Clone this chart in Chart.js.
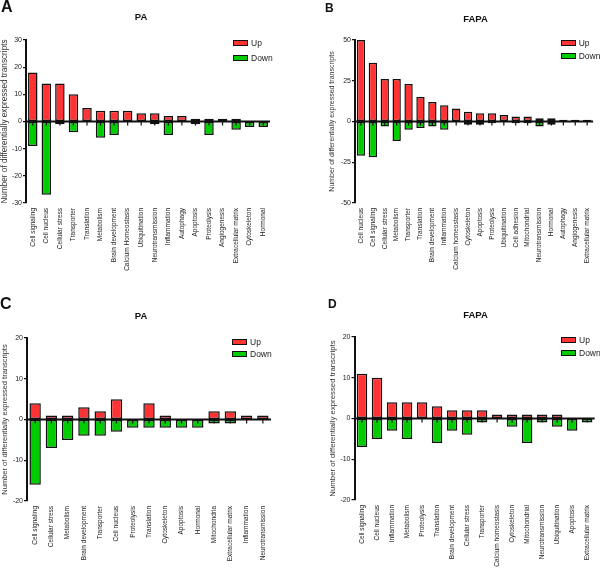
<!DOCTYPE html>
<html>
<head>
<meta charset="utf-8">
<script src="https://cdn.jsdelivr.net/npm/chart.js@4.4.0/dist/chart.umd.min.js"></script>
<style>
  html, body { margin: 0; padding: 0; background: #fff; }
  #figure { position: relative; width: 600px; height: 570px; overflow: hidden; font-family: Arial, 'Liberation Sans', sans-serif; }
  .panel { position: absolute; width: 300px; height: 285px; }
  .letter, .title { position: absolute; color: #111; font-weight: bold; line-height: 1; white-space: nowrap; }
  .title { transform: translateX(-50%); }
  .legend-item { position: absolute; display: flex; align-items: center; font-size: 8.5px; color: #222; line-height: 1; white-space: nowrap; }
  .swatch { display: inline-block; box-sizing: border-box; width: 15px; height: 6px; border: 1.5px solid #111; margin-right: 3px; }
</style>
</head>
<body>
<div id="figure"></div>
<script>
// A: PA
const categoriesA = ['Cell signaling', 'Cell nucleus', 'Cellular stress', 'Transporter', 'Translation', 'Metabolism',
  'Brain development', 'Calcium Homeostasis', 'Ubiquitination', 'Neurotransmission', 'Inflammation', 'Autophagy',
  'Apoptosis', 'Proteolysis', 'Angiogenesis', 'Extracellular matrix', 'Cytoskeleton', 'Hormonal'];
const upA = [18, 14, 14, 10, 5, 4, 4, 4, 3, 3, 2, 2, 1, 1, 1, 1, 0, 0];
const downA = [-9, -27, -1, -4, 0, -6, -5, 0, 0, -1, -5, 0, -1, -5, 0, -3, -2, -2];
const yTicksA = [-30, -20, -10, 0, 10, 20, 30];

// B: FAPA
const categoriesB = ['Cell nucleus', 'Cell signaling', 'Cellular stress', 'Metabolism', 'Transporter', 'Translation',
  'Brain development', 'Inflammation', 'Calcium homeostasis', 'Cytoskeleton', 'Apoptosis', 'Proteolysis',
  'Ubiquitination', 'Cell adhesion', 'Mitochondrial', 'Neurotransmission', 'Hormonal', 'Autophagy',
  'Angiogenesis', 'Extracellular matrix'];
const upB = [50, 36, 26, 26, 23, 15, 12, 10, 8, 6, 5, 5, 4, 3, 3, 2, 2, 1, 1, 1];
const downB = [-21, -22, -3, -12, -5, -4, -3, -5, 0, -2, -2, -1, 0, -1, -1, -3, -2, 0, 0, 0];
const yTicksB = [-50, -25, 0, 25, 50];

// C: PA
const categoriesC = ['Cell signaling', 'Cellular stress', 'Metabolism', 'Brain development', 'Transporter',
  'Cell nucleus', 'Proteolysis', 'Translation', 'Cytoskeleton', 'Apoptosis', 'Hormonal', 'Mitochondria',
  'Extracellular matrix', 'Inflammation', 'Neurotransmission'];
const upC = [4, 1, 1, 3, 2, 5, 0, 4, 1, 0, 0, 2, 2, 1, 1];
const downC = [-16, -7, -5, -4, -4, -3, -2, -2, -2, -2, -2, -1, -1, 0, 0];
const yTicksC = [-20, -10, 0, 10, 20];

// D: FAPA
const categoriesD = ['Cell signaling', 'Cell nucleus', 'Inflammation', 'Metabolism', 'Proteolysis', 'Translation',
  'Brain development', 'Cellular stress', 'Transporter', 'Calcium homeostasis', 'Cytoskeleton', 'Mitochondrial',
  'Neurotransmission', 'Ubiquitination', 'Apoptosis', 'Extracellular matrix'];
const upD = [11, 10, 4, 4, 4, 3, 2, 2, 2, 1, 1, 1, 1, 1, 0, 0];
const downD = [-7, -5, -3, -5, 0, -6, -3, -4, -1, 0, -2, -6, -1, -2, -3, -1];
const yTicksD = [-20, -10, 0, 10, 20];

const seriesNames = ['Up', 'Down'];
const seriesColors = ['#ff3333', '#00cc00'];
const yTitle = 'Number of differentially expressed transcripts';
const FONT = "Arial, 'Liberation Sans', sans-serif";

const panels = [
  { letter: 'A', title: 'PA', labels: categoriesA, up: upA, down: downA, yTicks: yTicksA,
    x: 0, y: 0, area: { left: 26, top: 40, right: 270, bottom: 203 }, yTitleX: 5, yTitleSize: 8.2,
    letterPos: [1, -1, 16], titlePos: [141, 12, 9.5], legendPos: [233, 40.5, 14.5] },
  { letter: 'B', title: 'FAPA', labels: categoriesB, up: upB, down: downB, yTicks: yTicksB,
    x: 300, y: 0, area: { left: 55, top: 40, right: 298, bottom: 203 }, yTitleX: 32, yTitleSize: 7,
    letterPos: [325, 1.5, 12], titlePos: [175.5, 13.8, 9.5], legendPos: [260.7, 40.5, 13] },
  { letter: 'C', title: 'PA', labels: categoriesC, up: upC, down: downC, yTicks: yTicksC,
    x: 0, y: 285, area: { left: 27, top: 53, right: 271, bottom: 216 }, yTitleX: 5, yTitleSize: 7.5,
    letterPos: [0, 296, 16], titlePos: [141, 310.8, 9.5], legendPos: [232, 54, 12] },
  { letter: 'D', title: 'FAPA', labels: categoriesD, up: upD, down: downD, yTicks: yTicksD,
    x: 300, y: 285, area: { left: 54.5, top: 52, right: 298.6, bottom: 215 }, yTitleX: 33, yTitleSize: 7.8,
    letterPos: [328, 298.4, 12], titlePos: [175.5, 309.8, 9.5], legendPos: [261, 52.7, 12.5] }
];

// zero baseline plus the short category ticks hanging under it
const zeroLine = {
  id: 'zeroLine',
  afterDatasetsDraw(chart) {
    const { ctx, chartArea, scales: { x, y } } = chart;
    const y0 = y.getPixelForValue(0);
    ctx.save();
    ctx.strokeStyle = '#111';
    ctx.lineWidth = 2;
    ctx.beginPath();
    ctx.moveTo(chartArea.left, y0);
    ctx.lineTo(chartArea.right, y0);
    ctx.stroke();
    ctx.lineWidth = 1.2;
    ctx.beginPath();
    x.ticks.forEach((t, i) => {
      const px = x.getPixelForTick(i);
      ctx.moveTo(px, y0);
      ctx.lineTo(px, y0 + 4);
    });
    ctx.stroke();
    ctx.restore();
  }
};

const figure = document.getElementById('figure');

const addText = (cls, text, left, top, size) => {
  const el = document.createElement('div');
  el.className = cls;
  el.textContent = text;
  el.style.left = left + 'px';
  el.style.top = top + 'px';
  el.style.fontSize = size + 'px';
  figure.appendChild(el);
};

panels.forEach(p => {
  const wrap = document.createElement('div');
  wrap.className = 'panel';
  wrap.style.left = p.x + 'px';
  wrap.style.top = p.y + 'px';
  const canvas = document.createElement('canvas');
  canvas.width = 300;
  canvas.height = 285;
  wrap.appendChild(canvas);
  figure.appendChild(wrap);

  const xHeight = 285 - p.area.bottom;
  const step = p.yTicks[1] - p.yTicks[0];

  const chart = new Chart(canvas.getContext('2d'), {
    type: 'bar',
    data: {
      labels: p.labels,
      datasets: [p.up, p.down].map((values, i) => ({
        label: seriesNames[i],
        data: values.map(v => (v === 0 ? null : v)),
        backgroundColor: seriesColors[i],
        borderColor: '#111',
        borderWidth: 1.5,
        borderSkipped: false,
        barPercentage: 0.7,
        categoryPercentage: 1,
        grouped: false
      }))
    },
    options: {
      responsive: false,
      animation: false,
      devicePixelRatio: 1,
      layout: { padding: { left: 0, top: p.area.top, right: 300 - p.area.right, bottom: 0 } },
      plugins: { legend: { display: false }, tooltip: { enabled: false } },
      scales: {
        x: {
          grid: { display: false, drawTicks: false },
          border: { display: false },
          ticks: { color: '#222', font: { family: FONT, size: 6.5 }, padding: 5, minRotation: 90, maxRotation: 90, autoSkip: false },
          afterFit: scale => { scale.height = xHeight; }
        },
        y: {
          min: p.yTicks[0],
          max: p.yTicks[p.yTicks.length - 1],
          grid: { drawOnChartArea: false, color: '#111', tickLength: 3, lineWidth: 1.2 },
          border: { color: '#111', width: 2 },
          ticks: { stepSize: step, color: '#222', font: { family: FONT, size: 7 }, padding: 1 },
          title: {
            display: true,
            text: yTitle,
            color: '#333',
            font: { family: FONT, size: p.yTitleSize, lineHeight: 1.2 },
            padding: { top: p.yTitleX - p.yTitleSize * 0.6, bottom: 0 }
          },
          afterFit: scale => { scale.width = p.area.left; }
        }
      }
    },
    plugins: [zeroLine]
  });

  addText('letter', p.letter, p.letterPos[0], p.letterPos[1], p.letterPos[2]);
  addText('title', p.title, p.x + p.titlePos[0], p.titlePos[1], p.titlePos[2]);

  chart.data.datasets.forEach((ds, i) => {
    const item = document.createElement('div');
    item.className = 'legend-item';
    item.style.left = (p.x + p.legendPos[0]) + 'px';
    item.style.top = (p.y + p.legendPos[1] + i * p.legendPos[2] - 1.5) + 'px';
    const sw = document.createElement('span');
    sw.className = 'swatch';
    sw.style.background = ds.backgroundColor;
    item.appendChild(sw);
    item.appendChild(document.createTextNode(ds.label));
    figure.appendChild(item);
  });
});
</script>
</body>
</html>
